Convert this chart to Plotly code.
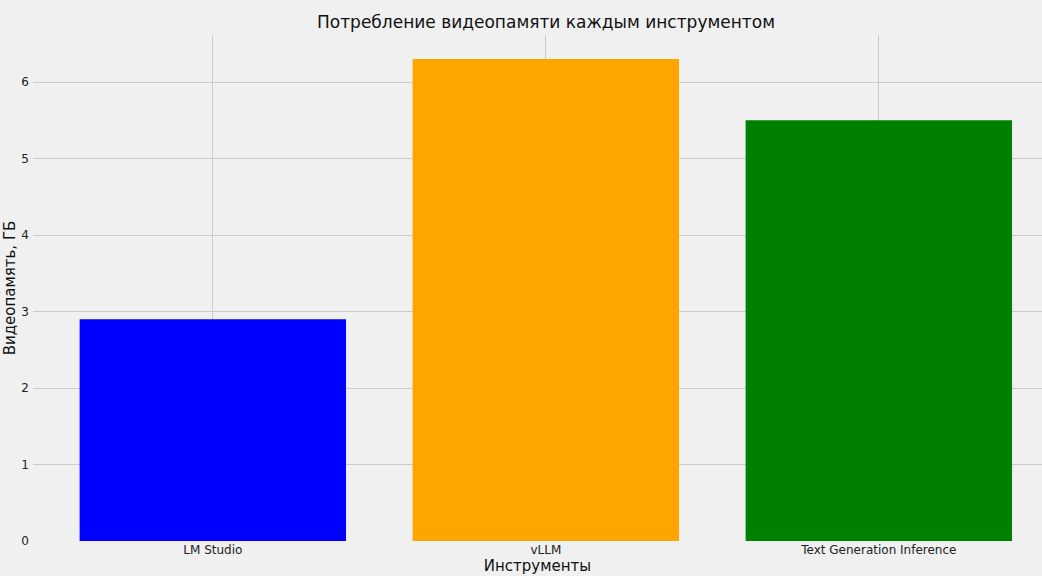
import plotly.graph_objects as go

tools = ["LM Studio", "vLLM", "Text Generation Inference"]
vram_gb = [2.9, 6.3, 5.5]
colors = ["#0000ff", "#ffa500", "#008000"]
y_ticks = [0, 1, 2, 3, 4, 5, 6]

fig = go.Figure(
    go.Bar(
        x=tools,
        y=vram_gb,
        marker=dict(color=colors, line=dict(width=0)),
        width=0.8,
    )
)

font_family = "DejaVu Sans"
fig.update_layout(
    width=1042,
    height=576,
    paper_bgcolor="#f0f0f0",
    plot_bgcolor="#f0f0f0",
    margin=dict(l=33, r=0, t=35, b=35),
    font=dict(family=font_family, color="#222222"),
    title=dict(
        text="Потребление видеопамяти каждым инструментом",
        x=546 / 1042,
        xref="container",
        xanchor="center",
        y=1 - 22 / 576,
        yref="container",
        yanchor="middle",
        font=dict(size=17, family=font_family, color="#111111"),
    ),
    showlegend=False,
    bargap=0.2,
)
fig.update_xaxes(
    range=[-0.54, 2.49],
    showgrid=True,
    gridcolor="#cbcbcb",
    gridwidth=1,
    showline=False,
    zeroline=False,
    ticks="",
    tickfont=dict(size=12, color="#222222"),
    title=dict(text="Инструменты", font=dict(size=15, color="#111111"), standoff=2),
)
fig.update_yaxes(
    range=[0, 6.615],
    tickvals=y_ticks,
    showgrid=True,
    gridcolor="#cbcbcb",
    gridwidth=1,
    zeroline=False,
    showline=False,
    ticks="",
    ticklabelstandoff=3,
    tickfont=dict(size=12, color="#222222"),
    title=dict(text="Видеопамять, ГБ", font=dict(size=15, color="#111111"), standoff=2),
)

fig.write_html(
    "out.html",
    config={"displayModeBar": False},
    post_script="document.body.style.margin='0px';document.body.style.background='#f0f0f0';",
)
